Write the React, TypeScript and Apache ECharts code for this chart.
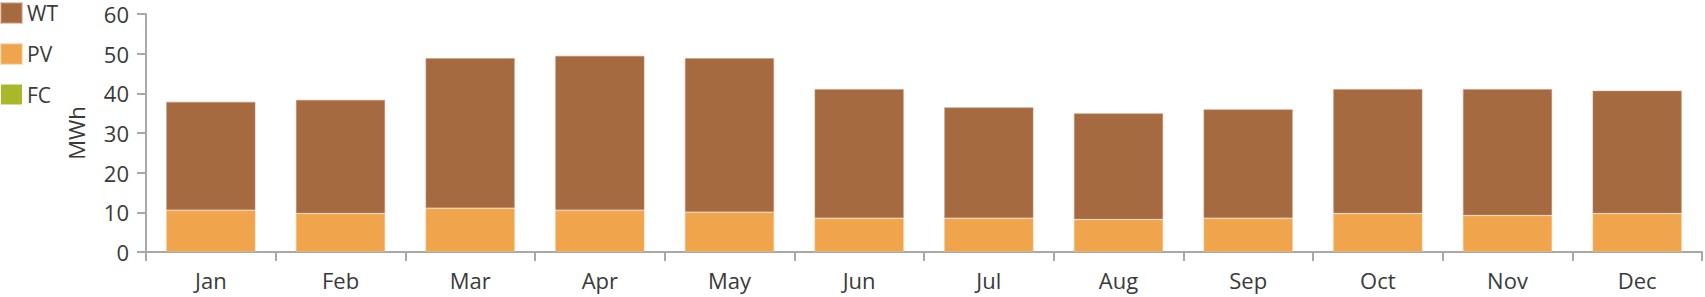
import React, { useEffect, useRef } from "react";
import * as echarts from "echarts";

const months = ["Jan", "Feb", "Mar", "Apr", "May", "Jun", "Jul", "Aug", "Sep", "Oct", "Nov", "Dec"];
const pvValues = [10.5, 9.7, 11.0, 10.5, 10.0, 8.5, 8.5, 8.2, 8.5, 9.7, 9.2, 9.7];
const wtValues = [27.4, 28.7, 37.9, 39.0, 38.9, 32.6, 28.0, 26.8, 27.5, 31.4, 31.9, 31.0];
const fcValues = [0, 0, 0, 0, 0, 0, 0, 0, 0, 0, 0, 0];
const yTicks = { min: 0, max: 60, interval: 10 };
const axisTitle = "MWh";

const FONT = "'Open Sans', 'Noto Sans', sans-serif";
const TEXT = "#3a3a3a";
const AXIS = "#a8a8a8";
const FS = 22;

export default function App() {
  const ref = useRef<HTMLDivElement>(null);
  useEffect(() => {
    document.body.style.margin = "0";
    if (!ref.current) return;
    const chart = echarts.init(ref.current, undefined, { renderer: "svg" });
    const barBase = {
      type: "bar",
      stack: "total",
      barCategoryGap: "31%",
    };
    chart.setOption({
      animation: false,
      textStyle: { fontFamily: FONT },
      legend: {
        orient: "vertical",
        left: 0,
        top: 2,
        padding: 0,
        itemWidth: 21,
        itemHeight: 20,
        itemGap: 19,
        icon: "rect",
        data: ["WT", "PV", "FC"],
        textStyle: { fontSize: 21, lineHeight: 20, color: TEXT, fontFamily: FONT },
        selectedMode: false,
      },
      grid: { left: 146, right: 3, top: 14, bottom: 45, containLabel: false },
      xAxis: {
        type: "category",
        data: months,
        boundaryGap: true,
        axisLine: { lineStyle: { color: AXIS, width: 2 } },
        axisTick: { show: true, length: 9, lineStyle: { color: AXIS, width: 2 } },
        axisLabel: { color: TEXT, fontSize: FS, fontFamily: FONT, margin: 17 },
      },
      yAxis: {
        type: "value",
        min: yTicks.min,
        max: yTicks.max,
        interval: yTicks.interval,
        name: axisTitle,
        nameLocation: "middle",
        nameGap: 59,
        nameRotate: 90,
        nameTextStyle: { color: TEXT, fontSize: FS, fontFamily: FONT },
        axisLine: { show: true, lineStyle: { color: AXIS, width: 2 } },
        axisTick: { show: true, length: 9, lineStyle: { color: AXIS, width: 2 } },
        axisLabel: { color: TEXT, fontSize: FS, lineHeight: 20, fontFamily: FONT, margin: 17 },
        splitLine: { show: false },
      },
      series: [
        { ...barBase, name: "FC", data: fcValues, itemStyle: { color: "#a9b82b" } },
        {
          ...barBase,
          name: "PV",
          data: pvValues,
          itemStyle: { color: "#f0a54c", borderColor: "rgba(246,190,130,0.5)", borderWidth: 1 },
        },
        {
          ...barBase,
          name: "WT",
          data: wtValues,
          itemStyle: { color: "#a66a40", borderColor: "rgba(200,150,120,0.5)", borderWidth: 1 },
        },
      ],
    });
    return () => chart.dispose();
  }, []);
  return <div ref={ref} style={{ width: 1705, height: 297 }} />;
}
